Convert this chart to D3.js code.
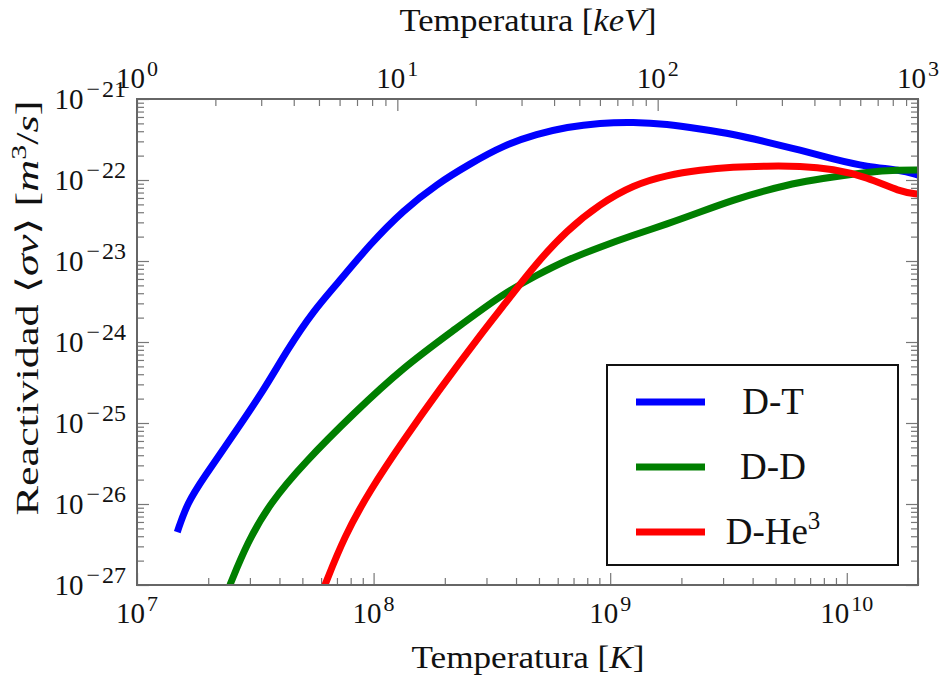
<!DOCTYPE html>
<html>
<meta charset="utf-8">
<style type="text/css">
	body { margin: 0; background: #fff; }
	svg text { font-family: "Liberation Serif", "DejaVu Serif", serif; fill: #111; }
	.tick line { stroke: #777; stroke-width: 1.2px; }
	.domain { display: none; }
</style>
<svg width="945" height="680"></svg>
<script src="https://d3js.org/d3.v7.min.js"></script>
<script>
	// temperatures in K, reactivity in m^3/s
	var tempDT = [1.48e7, 1.63e7, 1.92e7, 2.47e7, 3.44e7, 4.31e7, 5.60e7, 7.00e7, 9.66e7, 1.34e8, 1.85e8, 2.55e8, 3.56e8, 4.91e8, 6.56e8, 9.06e8, 1.25e9, 1.74e9, 2.40e9, 3.30e9, 4.60e9, 6.34e9, 8.75e9, 1.22e10, 1.68e10, 2.0e10];
	var sigmaDT = [4.5e-27, 1.03e-26, 2.15e-26, 6.2e-26, 2.55e-25, 8.0e-25, 2.48e-24, 5.2e-24, 1.62e-23, 4.27e-23, 8.9e-23, 1.58e-22, 2.70e-22, 3.70e-22, 4.51e-22, 5.06e-22, 5.20e-22, 4.91e-22, 4.27e-22, 3.70e-22, 2.94e-22, 2.34e-22, 1.82e-22, 1.45e-22, 1.33e-22, 1.15e-22];

	var tempDD = [2.47e7, 2.92e7, 3.65e7, 5.08e7, 8.26e7, 1.34e8, 2.19e8, 3.56e8, 4.91e8, 6.56e8, 9.06e8, 1.25e9, 1.74e9, 2.40e9, 3.30e9, 4.60e9, 6.34e9, 8.75e9, 1.22e10, 1.68e10, 2.0e10];
	var sigmaDD = [1e-27, 3.3e-27, 1.03e-26, 3.21e-26, 1.33e-25, 4.91e-25, 1.41e-24, 4.03e-24, 6.71e-24, 1.03e-23, 1.49e-23, 2.09e-23, 2.86e-23, 4.03e-23, 5.66e-23, 7.53e-23, 9.44e-23, 1.09e-22, 1.26e-22, 1.33e-22, 1.33e-22];

	var tempDHe3 = [6.23e7, 7.50e7, 9.66e7, 1.34e8, 1.85e8, 2.93e8, 3.56e8, 4.72e8, 6.56e8, 9.06e8, 1.25e9, 1.74e9, 2.40e9, 3.30e9, 4.60e9, 6.34e9, 8.75e9, 1.22e10, 1.68e10, 2.0e10];
	var sigmaDHe3 = [1e-27, 3.92e-27, 1.49e-26, 6.17e-26, 2.34e-25, 1.41e-24, 2.86e-24, 8.43e-24, 2.41e-23, 5.06e-23, 8.67e-23, 1.15e-22, 1.33e-22, 1.45e-22, 1.49e-22, 1.49e-22, 1.37e-22, 1.09e-22, 7.11e-23, 6.72e-23];

	var seriesNames = ['D-T', 'D-D', 'D-He'];
	var seriesColors = ['#0000ff', '#007f00', '#ff0000'];

	var xExponents = [7, 8, 9, 10];
	var yExponents = [-27, -26, -25, -24, -23, -22, -21];
	var topExponents = [0, 1, 2, 3];

	var svg = d3.select('svg'),
			pLeft = 137, pRight = 918, pTop = 99, pBottom = 585;

	var x = d3.scaleLog().domain([1e7, 2e10]).range([pLeft, pRight]),
			xTop = d3.scaleLog().domain([1, 1000]).range([pLeft, pRight]),
			y = d3.scaleLog().domain([1e-27, 1e-21]).range([pBottom, pTop]);

	// minor tick values for each decade
	function minors(scale) {
		var d = scale.domain().slice().sort((a, b) => a - b), out = [];
		for (var e = Math.floor(Math.log10(d[0])); e <= Math.ceil(Math.log10(d[1])); e++) {
			for (var m = 2; m <= 9; m++) {
				var v = m * Math.pow(10, e);
				if (v >= d[0] * 0.999 && v <= d[1] * 1.001) out.push(v);
			}
		}
		return out;
	}

	function drawTicks(axisFn, scale, exps, transform) {
		var majors = exps.map(e => Math.pow(10, e));
		svg.append('g').attr('transform', transform)
			.call(axisFn(scale).tickValues(minors(scale)).tickSize(-7).tickFormat(''));
		svg.append('g').attr('transform', transform)
			.call(axisFn(scale).tickValues(majors).tickSize(-12).tickFormat(''));
	}

	drawTicks(d3.axisBottom, x, xExponents, 'translate(0,' + pBottom + ')');
	drawTicks(d3.axisTop, xTop, topExponents, 'translate(0,' + pTop + ')');
	drawTicks(d3.axisLeft, y, yExponents, 'translate(' + pLeft + ',0)');
	drawTicks(d3.axisRight, y, yExponents, 'translate(' + pRight + ',0)');

	// curves
	svg.append('clipPath').attr('id', 'clip')
		.append('rect').attr('x', pLeft).attr('y', pTop)
		.attr('width', pRight - pLeft).attr('height', pBottom - pTop);

	var line = d3.line()
			.x(d => x(d[0]))
			.y(d => y(d[1]))
			.curve(d3.curveBasis);

	var series = [
		d3.zip(tempDT, sigmaDT),
		d3.zip(tempDD, sigmaDD),
		d3.zip(tempDHe3, sigmaDHe3)
	];

	svg.append('g').attr('clip-path', 'url(#clip)')
		.selectAll('path')
			.data(series)
		.enter().append('path')
			.attr('d', line)
			.attr('fill', 'none')
			.attr('stroke', (d, i) => seriesColors[i])
			.attr('stroke-width', 7);

	// frame
	svg.append('rect')
		.attr('x', pLeft).attr('y', pTop)
		.attr('width', pRight - pLeft).attr('height', pBottom - pTop)
		.attr('fill', 'none').attr('stroke', '#666').attr('stroke-width', 2);

	// power-of-ten labels
	function powLabel(g, exp, supSize) {
		g.append('tspan').text('10');
		if (exp < 0) {
			g.append('tspan').attr('dy', -12).attr('dx', 3).attr('font-size', supSize).text('\u2212');
			g.append('tspan').attr('dx', 2).attr('font-size', supSize).text(-exp);
		} else {
			g.append('tspan').attr('dy', -12).attr('dx', 2).attr('font-size', supSize).text(exp);
		}
	}

	xExponents.forEach(e => {
		var t = svg.append('text').attr('x', x(Math.pow(10, e))).attr('y', 623)
			.attr('text-anchor', 'middle').attr('font-size', 29);
		powLabel(t, e, 22);
	});
	topExponents.forEach(e => {
		var t = svg.append('text').attr('x', xTop(Math.pow(10, e))).attr('y', 88)
			.attr('text-anchor', 'middle').attr('font-size', 29);
		powLabel(t, e, 22);
	});
	yExponents.forEach(e => {
		var t = svg.append('text').attr('x', 126).attr('y', y(Math.pow(10, e)) + 10)
			.attr('text-anchor', 'end').attr('font-size', 29);
		powLabel(t, e, 24);
	});

	// axis titles
	var xt = svg.append('text').attr('x', 528).attr('y', 668)
		.attr('text-anchor', 'middle').attr('font-size', 31)
		.attr('textLength', 233).attr('lengthAdjust', 'spacingAndGlyphs');
	xt.append('tspan').text('Temperatura [');
	xt.append('tspan').attr('font-style', 'italic').text('K');
	xt.append('tspan').text(']');

	var tt = svg.append('text').attr('x', 528).attr('y', 31)
		.attr('text-anchor', 'middle').attr('font-size', 32)
		.attr('textLength', 257).attr('lengthAdjust', 'spacingAndGlyphs');
	tt.append('tspan').text('Temperatura [');
	tt.append('tspan').attr('font-style', 'italic').text('keV');
	tt.append('tspan').text(']');

	var yt = svg.append('text')
		.attr('transform', 'translate(38,308) rotate(-90)')
		.attr('text-anchor', 'middle').attr('font-size', 31)
		.attr('textLength', 415).attr('lengthAdjust', 'spacingAndGlyphs');
	yt.append('tspan').text('Reactividad \u27E8');
	yt.append('tspan').attr('font-style', 'italic').text('\u03C3v');
	yt.append('tspan').text('\u27E9 [');
	yt.append('tspan').attr('font-style', 'italic').text('m');
	yt.append('tspan').attr('dy', -12).attr('font-size', 21).text('3');
	yt.append('tspan').attr('dy', 12).text('/');
	yt.append('tspan').attr('font-style', 'italic').text('s');
	yt.append('tspan').text(']');

	// legend
	var legend = svg.append('g');
	legend.append('rect')
		.attr('x', 607).attr('y', 365).attr('width', 291).attr('height', 200)
		.attr('fill', '#fff').attr('stroke', '#111').attr('stroke-width', 2);

	var item = legend.selectAll('.item')
			.data(seriesNames)
		.enter().append('g')
			.attr('class', 'item')
			.attr('transform', (d, i) => 'translate(0,' + (402 + i * 65) + ')');

	item.append('line')
		.attr('x1', 636).attr('x2', 705)
		.attr('stroke', (d, i) => seriesColors[i])
		.attr('stroke-width', 7);

	item.append('text')
		.attr('x', 773).attr('y', 12)
		.attr('text-anchor', 'middle').attr('font-size', 37)
		.each(function(d, i) {
			var t = d3.select(this);
			t.append('tspan').text(d);
			if (i === 2) t.append('tspan').attr('dy', -15).attr('font-size', 25).text('3');
		});
</script>
</html>
